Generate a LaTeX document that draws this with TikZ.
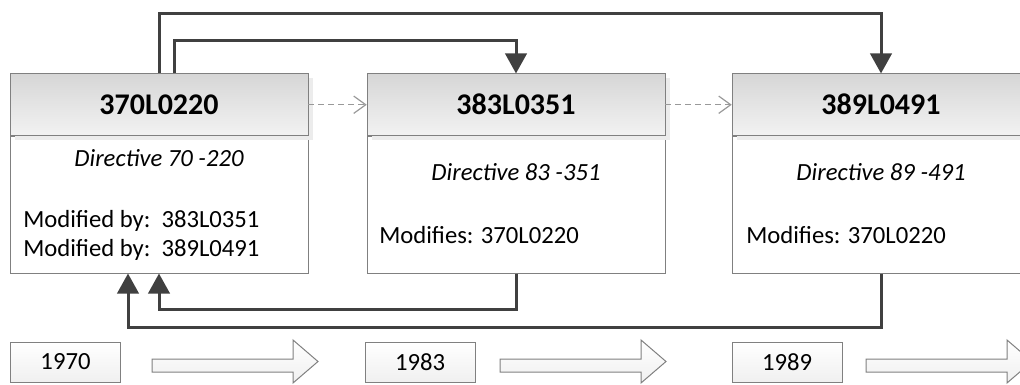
\documentclass[tikz,border=0pt]{standalone}
\usepackage{fontspec}
\setmainfont{Carlito}
\usetikzlibrary{arrows.meta,positioning,shadows}
\tikzset{>={Triangle[width=16pt,length=15pt]}}
\definecolor{linegray}{HTML}{404040}
\definecolor{boxgray}{HTML}{808080}
\definecolor{dashgray}{HTML}{999999}

\tikzset{
  header/.style={draw=boxgray, top color=gray!32, bottom color=gray!10,
    minimum width=223.5pt, minimum height=46.5pt, inner sep=0pt,
    font=\fontsize{22.5}{27}\selectfont\bfseries,
    drop shadow={shadow xshift=3.5pt, shadow yshift=-3pt, fill=gray!15, opacity=1}},
  body/.style={draw=boxgray, fill=white, minimum width=223.5pt,
    minimum height=102.75pt, inner sep=0pt, anchor=north},
  txt/.style={font=\fontsize{18.5}{22}\selectfont, inner sep=0pt},
  dirtxt/.style={font=\fontsize{18.5}{22}\selectfont\itshape, inner sep=0pt, anchor=base},
  conn/.style={draw=linegray, line width=2.25pt, ->},
  later/.style={draw=dashgray, line width=0.9pt, dash pattern=on 4.5pt off 3pt,
    -{Straight Barb[length=9pt,width=13pt]}},
  yearbox/.style={draw=boxgray, top color=white, bottom color=gray!12,
    minimum width=82.5pt, minimum height=30pt, inner sep=0pt,
    font=\fontsize{18.5}{22}\selectfont},
  blockarrow/.style={draw=boxgray, line width=0.75pt, top color=white, bottom color=gray!12}
}

\begin{document}
\begin{tikzpicture}[x=0.75pt,y=-0.75pt]
\useasboundingbox (0,0) rectangle (1020,385);

% directive boxes
\node[body] (b1) at (159,136) {};
\node[body] (b2) at (516,136) {};
\node[body] (b3) at (881,136) {};
\node[header, above=0pt of b1] (h1) {370L0220};
\node[header, above=0pt of b2] (h2) {383L0351};
\node[header, above=0pt of b3] (h3) {389L0491};

\node[dirtxt] (d1) at (159,166) {Directive 70 -220};
\node[dirtxt] (d2) at (516,180) {Directive 83 -351};
\node[dirtxt] (d3) at (881,180) {Directive 89 -491};

\node[txt, anchor=base west] (m1) at (23,227) {Modified by:\ \ 383L0351};
\node[txt, anchor=base west] (m2) at (23,256) {Modified by:\ \ 389L0491};
\node[txt, anchor=base west] (m3) at (379,243) {Modifies: 370L0220};
\node[txt, anchor=base west] (m4) at (746,243) {Modifies: 370L0220};

% succession
\draw[later] (h1.east) -- (h2.west);
\draw[later] (h2.east) -- (h3.west);

% modified by
\draw[conn] (h1.north) -- ++(0,-60) -| (h3.north);
\draw[conn] ([xshift=11.25pt]h1.north) -- ++(0,-33) -| (h2.north);

% modifies
\draw[conn] (b2.south) -- ++(0,36) -| (b1.south);
\draw[conn] (b3.south) -- ++(0,54) -| ([xshift=-23.25pt]b1.south);

% timeline
\node[yearbox] (y1) at (65.5,362) {1970};
\node[yearbox] (y2) at (420,362) {1983};
\node[yearbox] (y3) at (787,362) {1989};

\foreach \s in {152,500,866}
  \draw[blockarrow] (\s,359) -- (\s+141,359) -- (\s+141,340) -- (\s+166,361.5)
    -- (\s+141,383) -- (\s+141,372) -- (\s,372) -- cycle;
\end{tikzpicture}
\end{document}
